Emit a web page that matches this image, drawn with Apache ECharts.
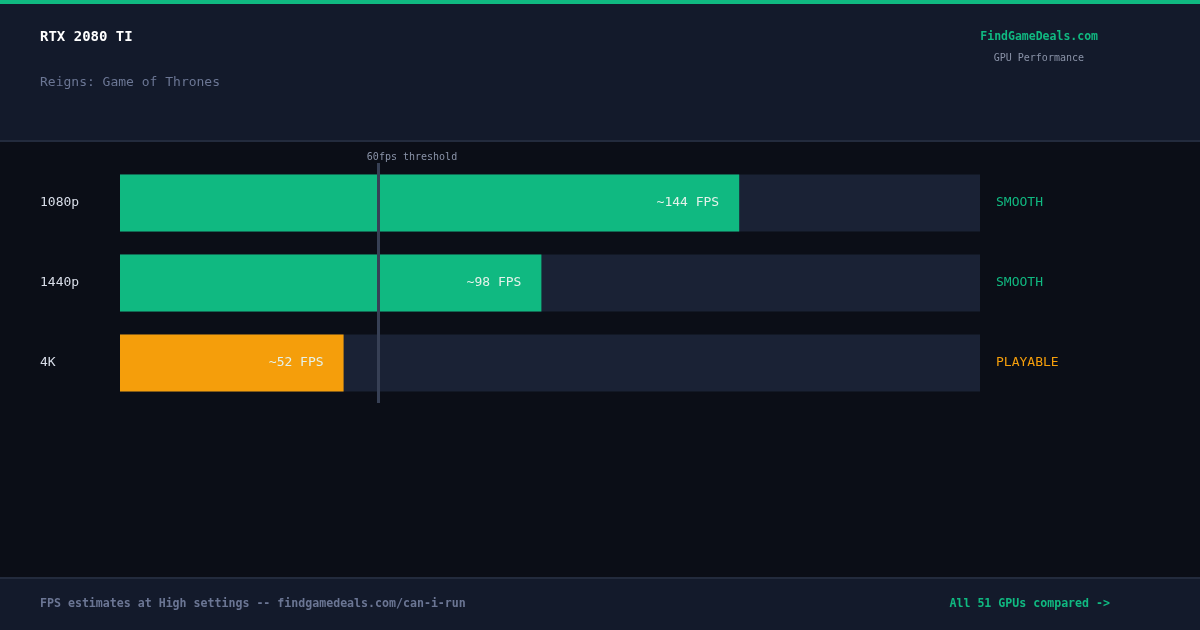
<!DOCTYPE html>
<html><head><meta charset="utf-8">
<script src="https://cdn.jsdelivr.net/npm/echarts@6/dist/echarts.min.js"></script>
<style>html,body{margin:0;padding:0;background:#0b0e17}#c{width:1200px;height:630px}</style>
</head><body><div id="c"></div>
<script>
const categories = ['1080p', '1440p', '4K'];
const fpsValues = [144, 98, 52];
const statuses = ['SMOOTH', 'SMOOTH', 'PLAYABLE'];
const threshold = 60;
const colorFor = v => v >= threshold ? '#10b981' : '#f59e0b';
const font = 'DejaVu Sans Mono';
const chart = echarts.init(document.getElementById('c'));
chart.setOption({
  backgroundColor: '#0b0e17',
  textStyle: { fontFamily: font },
  graphic: [
    { type: 'rect', shape: { x: 0, y: 0, width: 1200, height: 141 }, style: { fill: '#131a2b' }, z: -10 },
    { type: 'rect', shape: { x: 0, y: 0, width: 1200, height: 4 }, style: { fill: '#10b981' } },
    { type: 'rect', shape: { x: 0, y: 140, width: 1200, height: 2 }, style: { fill: '#232b3d' } },
    { type: 'rect', shape: { x: 0, y: 578, width: 1200, height: 52 }, style: { fill: '#131a2b' }, z: -10 },
    { type: 'rect', shape: { x: 0, y: 577, width: 1200, height: 2 }, style: { fill: '#232b3d' } },
    { type: 'text', left: 40, top: 30, style: { text: 'RTX 2080 TI', fill: '#ffffff', font: 'bold 14px ' + font } },
    { type: 'text', left: 40, top: 76, style: { text: 'Reigns: Game of Thrones', fill: '#6b7694', font: '13px ' + font } },
    { type: 'text', right: 102, top: 31, style: { text: 'FindGameDeals.com', fill: '#10b981', font: 'bold 11.5px ' + font } },
    { type: 'text', right: 116, top: 53, style: { text: 'GPU Performance', fill: '#8a93a8', font: '10px ' + font } },
    { type: 'text', left: 40, top: 598, style: { text: 'FPS estimates at High settings -- findgamedeals.com/can-i-run', fill: '#6b7694', font: 'bold 11.6px ' + font } },
    { type: 'text', right: 90, top: 598, style: { text: 'All 51 GPUs compared ->', fill: '#10b981', font: 'bold 11.6px ' + font } }
  ],
  grid: { left: 120, right: 220, top: 163, height: 240 },
  xAxis: { type: 'value', min: 0, max: 200, show: false },
  yAxis: [
    { type: 'category', data: categories, inverse: true, axisLine: { show: false }, axisTick: { show: false },
      axisLabel: { align: 'left', margin: 80, color: '#d8dde8', fontSize: 13, fontFamily: font } },
    { type: 'category', data: statuses, inverse: true, position: 'right', axisLine: { show: false }, axisTick: { show: false },
      axisLabel: { margin: 16, fontSize: 13, fontFamily: font,
        formatter: (v, i) => '{' + (fpsValues[i] >= threshold ? 'g' : 'o') + '|' + v + '}',
        rich: { g: { color: '#10b981', fontSize: 13, fontFamily: font }, o: { color: '#f59e0b', fontSize: 13, fontFamily: font } } } }
  ],
  series: [{
    type: 'bar', barWidth: 57,
    data: fpsValues.map(v => ({ value: v, itemStyle: { color: colorFor(v) } })),
    showBackground: true, backgroundStyle: { color: '#1a2235' },
    label: { show: true, position: 'insideRight', distance: 20, color: '#e4f2ea', fontSize: 13, fontFamily: font, formatter: p => '~' + p.value + ' FPS' },
    markLine: {
      symbol: 'none', silent: true,
      lineStyle: { color: '#374055', width: 3, type: 'solid' },
      label: { position: 'start', formatter: '60fps threshold', color: '#8a93a8', fontSize: 10, fontFamily: font, distance: 1, padding: [0, 0, 0, 68] },
      data: [{ xAxis: threshold }]
    }
  }]
});
</script></body></html>
